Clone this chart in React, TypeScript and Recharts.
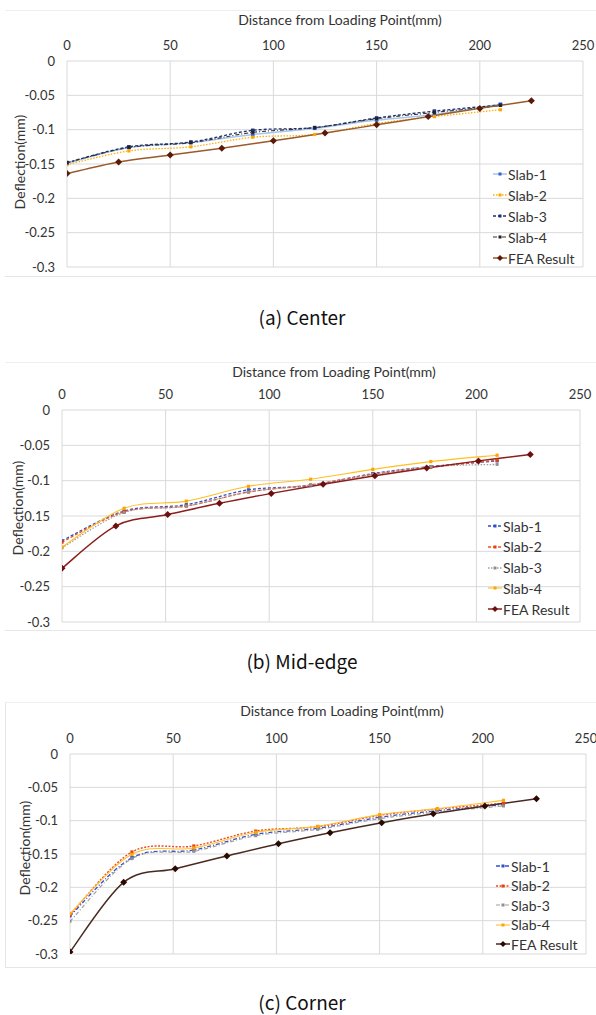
import React from "react";
import { LineChart, Line, XAxis, YAxis, CartesianGrid } from "recharts";

const W = 596;
const H = 1015;

// distances (mm)
const slabX = [0, 30, 60, 90, 120, 150, 178, 210];
const feaXCenter = [0, 25, 50, 75, 100, 125, 150, 175, 200, 225];
const feaXEdge = [0, 26, 51, 76, 101, 126, 151, 176, 201, 226];

// (a) Center
const centerSlab1 = [-0.149, -0.126, -0.119, -0.107, -0.098, -0.086, -0.078, -0.063];
const centerSlab2 = [-0.151, -0.131, -0.125, -0.111, -0.107, -0.091, -0.081, -0.071];
const centerSlab3 = [-0.148, -0.125, -0.118, -0.101, -0.097, -0.083, -0.073, -0.064];
const centerSlab4 = [-0.148, -0.126, -0.119, -0.104, -0.097, -0.084, -0.075, -0.065];
const centerFea = [-0.164, -0.147, -0.137, -0.127, -0.116, -0.105, -0.093, -0.081, -0.069, -0.058];

// (b) Mid-edge
const edgeSlab1 = [-0.185, -0.143, -0.134, -0.113, -0.107, -0.09, -0.08, -0.072];
const edgeSlab2 = [-0.187, -0.144, -0.136, -0.116, -0.106, -0.091, -0.081, -0.071];
const edgeSlab3 = [-0.195, -0.145, -0.136, -0.116, -0.106, -0.091, -0.08, -0.077];
const edgeSlab4 = [-0.194, -0.139, -0.129, -0.108, -0.098, -0.084, -0.073, -0.064];
const edgeFea = [-0.224, -0.164, -0.148, -0.132, -0.118, -0.105, -0.093, -0.082, -0.072, -0.063];

// (c) Corner
const cornerSlab1 = [-0.243, -0.1555, -0.144, -0.1205, -0.1115, -0.095, -0.085, -0.076];
const cornerSlab2 = [-0.241, -0.147, -0.138, -0.1155, -0.109, -0.092, -0.0825, -0.074];
const cornerSlab3 = [-0.251, -0.157, -0.146, -0.1225, -0.113, -0.097, -0.087, -0.078];
const cornerSlab4 = [-0.2395, -0.1505, -0.141, -0.1175, -0.1085, -0.091, -0.082, -0.0695];
const cornerFea = [-0.297, -0.1925, -0.172, -0.153, -0.1345, -0.118, -0.103, -0.0895, -0.078, -0.067];

const xTicks = [0, 50, 100, 150, 200, 250];
const yTicks = [0, -0.05, -0.1, -0.15, -0.2, -0.25, -0.3];
const seriesNames = ["Slab-1", "Slab-2", "Slab-3", "Slab-4", "FEA Result"];
const captions = ["(a) Center", "(b) Mid-edge", "(c) Corner"];
const xTitle = "Distance from Loading Point(mm)";
const yTitle = "Deflection(mm)";

const FONT = "Lato, 'Open Sans', sans-serif";
const TXT = "#333";
const GRID = "#d9d9d9";

type Look = { stroke: string; dash?: string; width: number; fill: string; shape: "sq" | "dia"; size: number };

// Excel-like smoothed line (Catmull-Rom through the points)
function excelSmooth(context: any) {
  let pts: [number, number][] = [];
  return {
    areaStart() {},
    areaEnd() {},
    lineStart() { pts = []; },
    point(x: number, y: number) { pts.push([+x, +y]); },
    lineEnd() {
      const n = pts.length;
      if (!n) return;
      context.moveTo(pts[0][0], pts[0][1]);
      if (n === 2) context.lineTo(pts[1][0], pts[1][1]);
      if (n < 3) return;
      for (let i = 0; i < n - 1; i++) {
        const p0 = pts[Math.max(0, i - 1)];
        const p1 = pts[i];
        const p2 = pts[i + 1];
        const p3 = pts[Math.min(n - 1, i + 2)];
        context.bezierCurveTo(
          p1[0] + (p2[0] - p0[0]) / 6, p1[1] + (p2[1] - p0[1]) / 6,
          p2[0] - (p3[0] - p1[0]) / 6, p2[1] - (p3[1] - p1[1]) / 6,
          p2[0], p2[1],
        );
      }
    },
  };
}

function markerPath(shape: "sq" | "dia", cx: number, cy: number, s: number) {
  if (shape === "dia") return `M${cx},${cy - s}L${cx + s},${cy}L${cx},${cy + s}L${cx - s},${cy}Z`;
  return `M${cx - s},${cy - s}h${2 * s}v${2 * s}h${-2 * s}Z`;
}

function makeDot(look: Look) {
  return (p: any) => {
    const { cx, cy, index } = p;
    if (cx == null || cy == null) return <g key={index} />;
    return <path key={index} d={markerPath(look.shape, cx, cy, look.size)} fill={look.fill} />;
  };
}

const pts = (xs: number[], ys: number[]) => xs.map((x, i) => ({ x, y: ys[i] }));

type Panel = {
  top: number; height: number;
  plotL: number; plotR: number; plotT: number; plotB: number;
  titleX: number; titleY: number; yLabX: number; yLabY: number;
  legX: number; legY: number; legStep: number;
  frameT: number; frameB: number; frameLeft?: boolean;
  captionY: number;
  series: { x: number[]; y: number[] }[];
  looks: Look[];
};

const panels: Panel[] = [
  {
    top: 0, height: 285, plotL: 67, plotR: 583, plotT: 61, plotB: 267,
    titleX: 340, titleY: 20, yLabX: 20, yLabY: 162,
    legX: 493, legY: 174, legStep: 21, frameT: 10, frameB: 275, captionY: 317,
    series: [
      { x: slabX, y: centerSlab1 }, { x: slabX, y: centerSlab2 }, { x: slabX, y: centerSlab3 },
      { x: slabX, y: centerSlab4 }, { x: feaXCenter, y: centerFea },
    ],
    looks: [
      { stroke: "#a9c5f0", width: 1.5, fill: "#2f5fd0", shape: "sq", size: 1.8 },
      { stroke: "#ffb000", dash: "1.5 1.5", width: 1.3, fill: "#ffa500", shape: "sq", size: 1.6 },
      { stroke: "#1f2f6f", dash: "3 2", width: 1.3, fill: "#1f2f6f", shape: "sq", size: 1.8 },
      { stroke: "#333333", dash: "4 2 1 2", width: 1.1, fill: "#222222", shape: "sq", size: 1.4 },
      { stroke: "#9a5a2a", width: 1.5, fill: "#5a1a08", shape: "dia", size: 3.5 },
    ],
  },
  {
    top: 350, height: 285, plotL: 62, plotR: 580, plotT: 410, plotB: 622,
    titleX: 334, titleY: 372, yLabX: 18, yLabY: 508,
    legX: 488, legY: 526, legStep: 20.75, frameT: 362, frameB: 629, captionY: 661,
    series: [
      { x: slabX, y: edgeSlab1 }, { x: slabX, y: edgeSlab2 }, { x: slabX, y: edgeSlab3 },
      { x: slabX, y: edgeSlab4 }, { x: feaXEdge, y: edgeFea },
    ],
    looks: [
      { stroke: "#2a4fd0", dash: "3 2", width: 1.3, fill: "#2a4fd0", shape: "sq", size: 1.6 },
      { stroke: "#f05020", dash: "3 2", width: 1.3, fill: "#e84010", shape: "sq", size: 1.6 },
      { stroke: "#a0a0a0", dash: "1.5 1.5", width: 1.3, fill: "#909090", shape: "sq", size: 1.5 },
      { stroke: "#ffc020", width: 1.1, fill: "#ffa500", shape: "sq", size: 1.6 },
      { stroke: "#8b1e1e", width: 1.5, fill: "#6b0f0f", shape: "dia", size: 3.5 },
    ],
  },
  {
    top: 690, height: 285, plotL: 70, plotR: 586, plotT: 754, plotB: 954,
    titleX: 342, titleY: 711, yLabX: 25, yLabY: 848,
    legX: 496, legY: 866, legStep: 19.5, frameT: 702, frameB: 966, frameLeft: true, captionY: 1002,
    series: [
      { x: slabX, y: cornerSlab1 }, { x: slabX, y: cornerSlab2 }, { x: slabX, y: cornerSlab3 },
      { x: slabX, y: cornerSlab4 }, { x: feaXEdge, y: cornerFea },
    ],
    looks: [
      { stroke: "#3050d0", dash: "4 2 1 2", width: 1.3, fill: "#2a4fd0", shape: "sq", size: 1.6 },
      { stroke: "#f04a1a", dash: "2 1.5", width: 1.4, fill: "#e84010", shape: "sq", size: 1.6 },
      { stroke: "#a0a0a0", dash: "4 2 1 2", width: 1.2, fill: "#909090", shape: "sq", size: 1.5 },
      { stroke: "#ffc030", width: 1.1, fill: "#ffa500", shape: "sq", size: 1.6 },
      { stroke: "#4a2a20", width: 1.5, fill: "#2a0a00", shape: "dia", size: 3.5 },
    ],
  },
];

function LegendBox({ p }: { p: Panel }) {
  return (
    <>
      {seriesNames.map((name, i) => {
        const look = p.looks[i];
        return (
          <div key={name} style={{
            position: "absolute", left: p.legX, top: p.legY + i * p.legStep - 9,
            height: 18, display: "flex", alignItems: "center",
            fontFamily: FONT, fontSize: 14, color: TXT, whiteSpace: "nowrap",
          }}>
            <svg width={14} height={10} style={{ marginRight: 1 }}>
              <line x1={0} y1={5} x2={14} y2={5} stroke={look.stroke} strokeWidth={look.width} strokeDasharray={look.dash} />
              <path d={markerPath(look.shape, 7, 5, look.shape === "dia" ? 3 : 1.5)} fill={look.fill} />
            </svg>
            {name}
          </div>
        );
      })}
    </>
  );
}

function PanelChart({ p }: { p: Panel }) {
  const plotTop = p.plotT - p.top;
  const plotBottom = p.plotB - p.top;
  return (
    <>
      <div style={{ position: "absolute", left: 5, right: 0, top: p.frameT, height: p.frameB - p.frameT,
        borderTop: "1px solid #efefef", borderBottom: "1px solid #e6e6e6",
        borderLeft: p.frameLeft ? "1px solid #e6e6e6" : undefined }} />
      <div style={{ position: "absolute", left: 0, top: p.top }}>
        <LineChart width={W} height={p.height}
          margin={{ top: 0, right: W - p.plotR, bottom: p.height - plotBottom, left: 0 }}>
          <CartesianGrid stroke={GRID} strokeWidth={1} horizontalValues={yTicks} verticalValues={xTicks} />
          <XAxis dataKey="x" type="number" orientation="top" domain={[0, 250]} ticks={xTicks}
            height={plotTop} axisLine={false} tickLine={false} tickSize={0} tickMargin={11}
            allowDataOverflow tick={{ fontSize: 13, fill: TXT, fontFamily: FONT }} />
          <YAxis type="number" domain={[-0.3, 0]} ticks={yTicks} width={p.plotL}
            axisLine={false} tickLine={false} tickSize={0} tickMargin={12} allowDataOverflow
            tickFormatter={(v: number) => String(v)}
            tick={{ fontSize: 13, fill: TXT, fontFamily: FONT }} />
          {p.series.map((s, i) => {
            const look = p.looks[i];
            return (
              <Line key={seriesNames[i]} name={seriesNames[i]} data={pts(s.x, s.y)} dataKey="y"
                type={excelSmooth as any} stroke={look.stroke} strokeWidth={look.width}
                strokeDasharray={look.dash} dot={makeDot(look)} activeDot={false}
                isAnimationActive={false} />
            );
          })}
        </LineChart>
      </div>
      <div style={{ position: "absolute", left: p.titleX - 150, width: 300, top: p.titleY - 10, height: 20,
        lineHeight: "20px", textAlign: "center", fontFamily: FONT, fontSize: 14, color: TXT }}>{xTitle}</div>
      <div style={{ position: "absolute", left: p.yLabX - 60, top: p.yLabY - 10, width: 120, height: 20,
        lineHeight: "20px", textAlign: "center", fontFamily: FONT, fontSize: 14, color: TXT,
        transform: "rotate(-90deg)" }}>{yTitle}</div>
      <LegendBox p={p} />
    </>
  );
}

export default function App() {
  return (
    <div style={{ position: "absolute", left: 0, top: 0, width: W, height: H, background: "#fff", overflow: "hidden" }}>
      {panels.map((p, i) => (
        <React.Fragment key={i}>
          <PanelChart p={p} />
          <div style={{ position: "absolute", left: 0, width: W, top: p.captionY - 12, height: 24,
            lineHeight: "24px", textAlign: "center", fontFamily: "'Noto Sans CJK KR', 'Noto Sans', sans-serif",
            fontSize: 19, color: "#111", paddingLeft: 8, boxSizing: "border-box" }}>{captions[i]}</div>
        </React.Fragment>
      ))}
    </div>
  );
}
